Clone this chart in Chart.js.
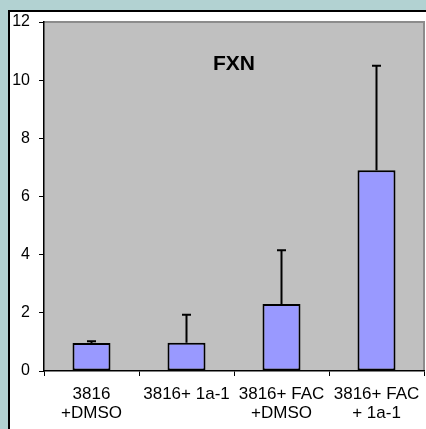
<!DOCTYPE html>
<html>
<head>
<meta charset="utf-8">
<script src="https://cdn.jsdelivr.net/npm/chart.js@4"></script>
<style>
  html, body { margin: 0; padding: 0; background: #b2d2d2; }
  #wrap { position: relative; width: 426px; height: 429px; }
</style>
</head>
<body>
<div id="wrap"><canvas id="chart" width="426" height="429"></canvas></div>
<script>
const CATEGORIES = [
  ['3816', '+DMSO'],
  '3816+ 1a-1',
  ['3816+ FAC', '+DMSO'],
  ['3816+ FAC', '+ 1a-1']
];
const VALUES = [0.96, 0.97, 2.3, 6.9];
const ERROR_TOPS = [1.02, 1.93, 4.15, 10.5];
const Y_TICKS = [0, 2, 4, 6, 8, 10, 12];
const TITLE = 'FXN';

const FONT = "'Liberation Sans', Arial, sans-serif";

// outer frame: light blue page with a white chart box, and grey plot area
const framePlugin = {
  id: 'frame',
  beforeDraw(chart) {
    const { ctx, chartArea: a } = chart;
    ctx.save();
    ctx.fillStyle = '#b2d2d2';
    ctx.fillRect(0, 0, chart.width, chart.height);
    ctx.fillStyle = '#ffffff';
    ctx.fillRect(8, 10, chart.width - 8, chart.height - 10);
    ctx.strokeStyle = '#000000';
    ctx.lineWidth = 2;
    ctx.beginPath();
    ctx.moveTo(9, chart.height);
    ctx.lineTo(9, 11);
    ctx.lineTo(chart.width, 11);
    ctx.stroke();
    ctx.fillStyle = '#c0c0c0';
    ctx.fillRect(a.left, a.top, a.right - a.left, a.bottom - a.top);
    ctx.strokeStyle = '#8c8c8c';
    ctx.lineWidth = 2;
    ctx.beginPath();
    ctx.moveTo(a.left, a.top);
    ctx.lineTo(a.right, a.top);
    ctx.lineTo(a.right, a.bottom);
    ctx.stroke();
    ctx.restore();
  }
};

// upper-only error bars plus the title inside the plot
const errorPlugin = {
  id: 'errors',
  afterDatasetsDraw(chart) {
    const { ctx, chartArea: a } = chart;
    const y = chart.scales.y;
    const meta = chart.getDatasetMeta(0);
    ctx.save();
    ctx.strokeStyle = '#000000';
    ctx.lineWidth = 2;
    meta.data.forEach((bar, i) => {
      const top = y.getPixelForValue(ERROR_TOPS[i]);
      ctx.beginPath();
      ctx.moveTo(bar.x, bar.y);
      ctx.lineTo(bar.x, top);
      ctx.moveTo(bar.x - 4.5, top);
      ctx.lineTo(bar.x + 4.5, top);
      ctx.stroke();
    });
    ctx.fillStyle = '#000000';
    ctx.font = 'bold 21px ' + FONT;
    ctx.textAlign = 'center';
    ctx.textBaseline = 'middle';
    ctx.fillText(TITLE, (a.left + a.right) / 2, a.top + 42);
    ctx.restore();
  }
};

new Chart(document.getElementById('chart'), {
  type: 'bar',
  data: {
    labels: CATEGORIES,
    datasets: [{
      data: VALUES,
      backgroundColor: '#9999ff',
      borderColor: '#000000',
      borderWidth: 2,
      borderSkipped: false,
      categoryPercentage: 1,
      barPercentage: 0.4
    }]
  },
  options: {
    responsive: false,
    animation: false,
    layout: { padding: { left: 8, top: 22, right: 2, bottom: 0 } },
    plugins: {
      legend: { display: false },
      tooltip: { enabled: false }
    },
    scales: {
      y: {
        min: 0,
        max: 12,
        afterFit(scale) { scale.width = 36; },
        afterBuildTicks(scale) { scale.ticks = Y_TICKS.map(v => ({ value: v })); },
        border: { color: '#000000', width: 1.5 },
        grid: { drawOnChartArea: false, drawTicks: true, tickLength: 5, color: '#000000' },
        ticks: { color: '#000000', padding: 9, font: { family: FONT, size: 16 } }
      },
      x: {
        afterFit(scale) {
          scale.height = 58;
          scale.paddingLeft = 0;
          scale.paddingRight = 0;
        },
        border: { color: '#000000', width: 1.5 },
        grid: { offset: true, drawOnChartArea: false, drawTicks: true, tickLength: 5, color: '#000000' },
        ticks: {
          color: '#000000',
          padding: 9,
          maxRotation: 0,
          autoSkip: false,
          font: { family: FONT, size: 17, lineHeight: 1.12 }
        }
      }
    }
  },
  plugins: [framePlugin, errorPlugin]
});
</script>
</body>
</html>
